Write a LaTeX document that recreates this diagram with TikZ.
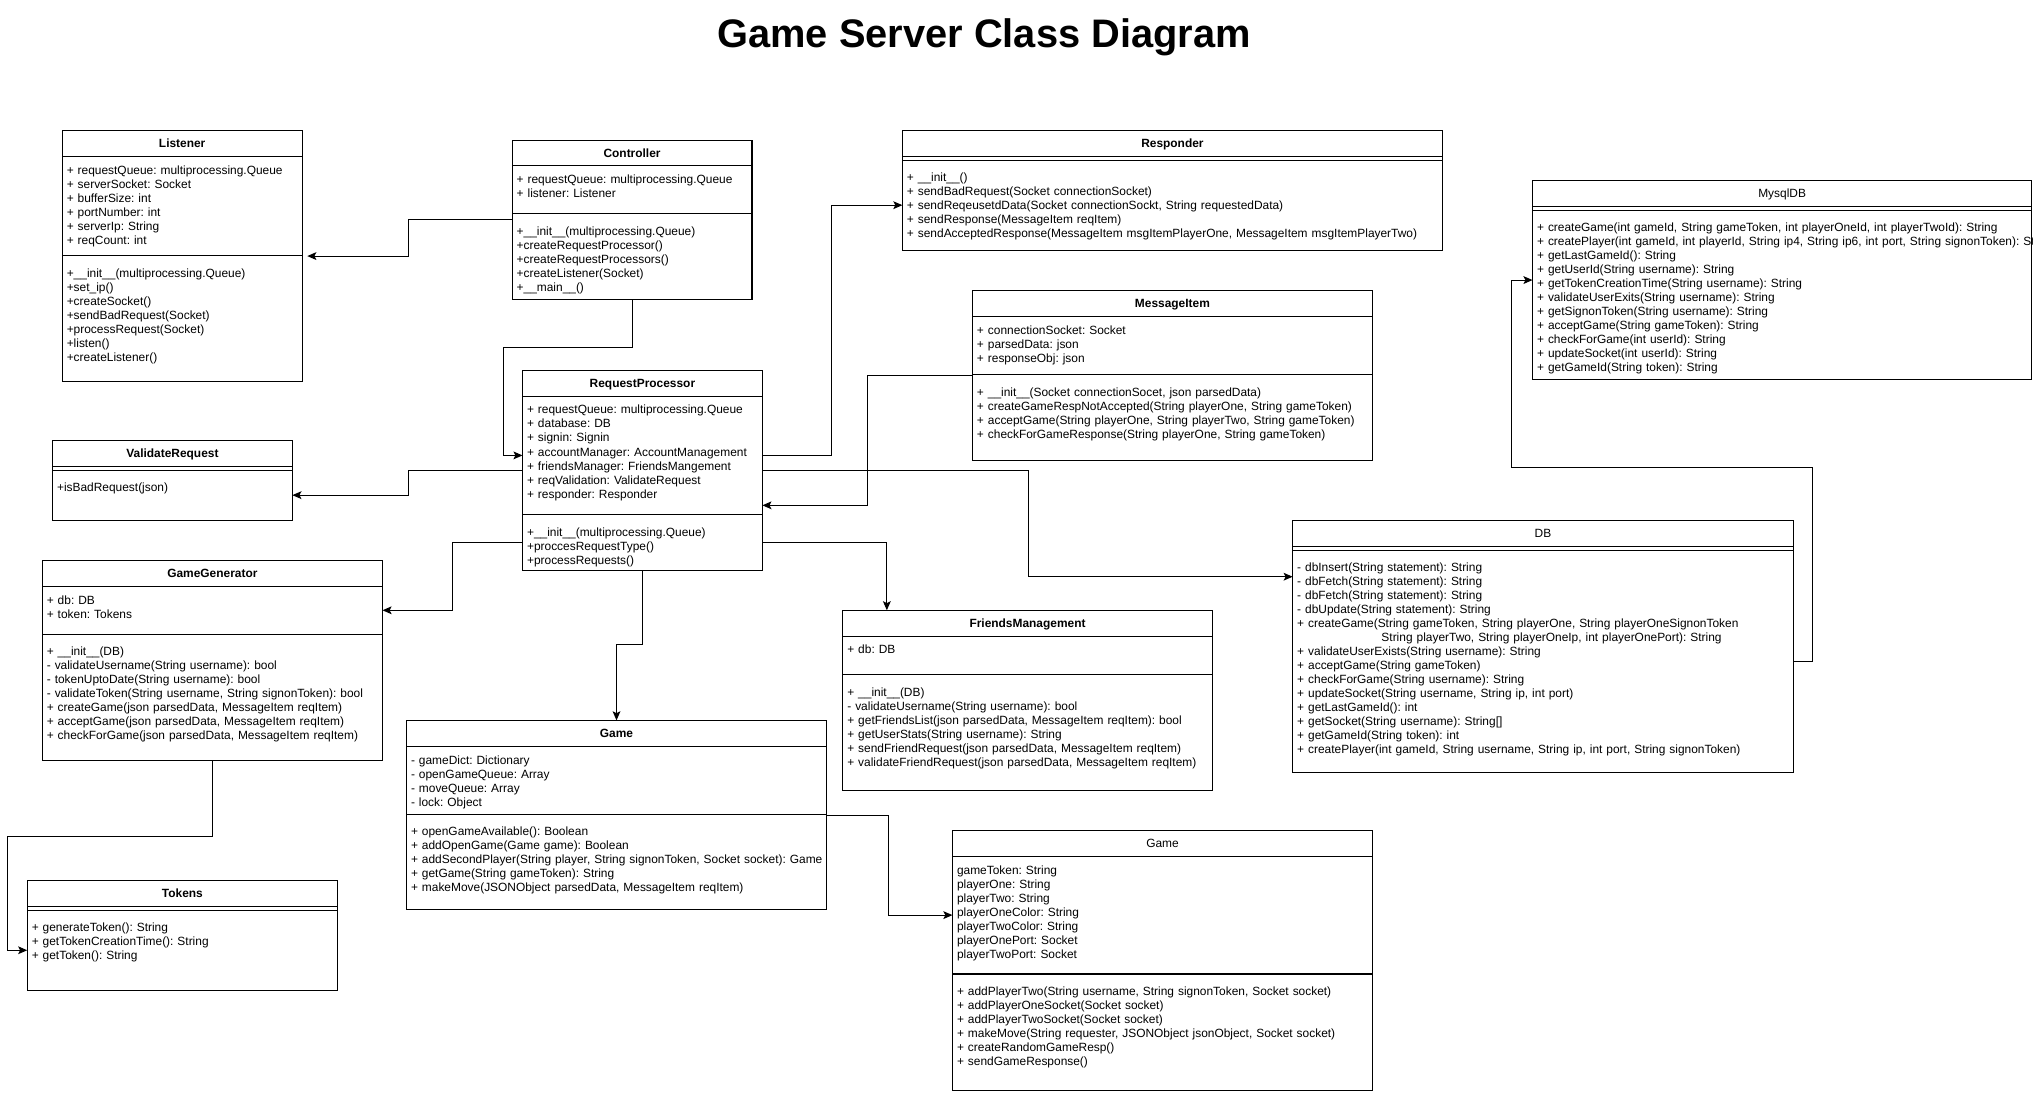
\documentclass[tikz,border=0pt]{standalone}
\usepackage{fontspec}
\setmainfont{Liberation Sans}
\usetikzlibrary{arrows.meta, positioning, fit}
\newcommand{\umlfont}{\fontsize{9.2}{10.8}\selectfont\frenchspacing}

\begin{document}
\begin{tikzpicture}[x=1pt, y=-1pt, line width=0.8pt,
    uml/.style={draw, rectangle, inner xsep=3.5pt, inner ysep=0pt, outer sep=0pt, align=left, font=\umlfont},
    head/.style={draw, rectangle, inner sep=0pt, outer sep=0pt, anchor=north west, minimum width=#1pt, minimum height=20pt, text height=6.7pt, text depth=0.5pt, font=\umlfont\bfseries},
    attr/.style 2 args={uml, minimum width=#1pt, text width=#1pt-7pt, text height=13.7pt, text depth=#2pt-13.7pt},
    meth/.style 2 args={uml, minimum width=#1pt, text width=#1pt-7pt, text height=16.7pt, text depth=#2pt-16.7pt},
    gap/.style={draw, rectangle, inner sep=0pt, outer sep=0pt, minimum width=#1pt, minimum height=3pt},
    whole/.style={inner sep=0pt, outer sep=0pt},
    assoc/.style={-{Stealth[length=7pt, width=6pt, inset=1.5pt]}}]
    \useasboundingbox (0,0) rectangle (1568,843);

    % Title
    \node[font=\fontsize{30.7}{36}\selectfont\bfseries] (title) at (759,29) {Game Server Class Diagram};

    % Listener
    \node[head=185] (lisH) at (48,101) {Listener};
    \node[attr={185}{76}, below=0pt of lisH] (lisA) {+ requestQueue: multiprocessing.Queue\\+ serverSocket: Socket\\+ bufferSize: int\\+ portNumber: int\\+ serverIp: String\\+ reqCount: int};
    \node[meth={185}{97}, below=0pt of lisA] (lisM) {+\_\_init\_\_(multiprocessing.Queue)\\+set\_ip()\\+createSocket()\\+sendBadRequest(Socket)\\+processRequest(Socket)\\+listen()\\+createListener()};
    \node[whole, fit=(lisH)(lisM)] (lis) {};

    % Controller
    \node[head=185] (ctrlH) at (395,108) {Controller};
    \node[attr={185}{37}, below=0pt of ctrlH] (ctrlA) {+ requestQueue: multiprocessing.Queue\\+ listener: Listener};
    \node[meth={185}{66}, below=0pt of ctrlA] (ctrlM) {+\_\_init\_\_(multiprocessing.Queue)\\+createRequestProcessor()\\+createRequestProcessors()\\+createListener(Socket)\\+\_\_main\_\_()};
    \node[whole, fit=(ctrlH)(ctrlM)] (ctrl) {};

    % RequestProcessor
    \node[head=185] (rpH) at (403,285.6) {RequestProcessor};
    \node[attr={185}{91.3}, below=0pt of rpH] (rpA) {+ requestQueue: multiprocessing.Queue\\+ database: DB\\+ signin: Signin\\+ accountManager: AccountManagement\\+ friendsManager: FriendsMangement\\+ reqValidation: ValidateRequest\\+ responder: Responder};
    \node[meth={185}{43}, below=0pt of rpA] (rpM) {+\_\_init\_\_(multiprocessing.Queue)\\+proccesRequestType()\\+processRequests()};
    \node[whole, fit=(rpH)(rpM)] (rp) {};

    % ValidateRequest
    \node[head=185] (vrH) at (40.5,339.6) {ValidateRequest};
    \node[gap=185, below=0pt of vrH] (vrG) {};
    \node[meth={185}{38.6}, below=0pt of vrG] (vrM) {+isBadRequest(json)};
    \node[whole, fit=(vrH)(vrM)] (vr) {};

    % GameGenerator
    \node[head=262.4] (ggH) at (32.6,432.2) {GameGenerator};
    \node[attr={262.4}{37}, below=0pt of ggH] (ggA) {+ db: DB\\+ token: Tokens};
    \node[meth={262.4}{97.2}, below=0pt of ggA] (ggM) {+ \_\_init\_\_(DB)\\- validateUsername(String username): bool\\- tokenUptoDate(String username): bool\\- validateToken(String username, String signonToken): bool\\+ createGame(json parsedData, MessageItem reqItem)\\+ acceptGame(json parsedData, MessageItem reqItem)\\+ checkForGame(json parsedData, MessageItem reqItem)};
    \node[whole, fit=(ggH)(ggM)] (gg) {};

    % Tokens
    \node[head=239.3] (tokH) at (21,679) {Tokens};
    \node[gap=239.3, below=0pt of tokH] (tokG) {};
    \node[meth={239.3}{61.8}, below=0pt of tokG] (tokM) {+ generateToken(): String\\+ getTokenCreationTime(): String\\+ getToken(): String};
    \node[whole, fit=(tokH)(tokM)] (tok) {};

    % Game (left)
    \node[head=324] (gmH) at (313.5,555.6) {Game};
    \node[attr={324}{52.4}, below=0pt of gmH] (gmA) {- gameDict: Dictionary\\- openGameQueue: Array\\- moveQueue: Array\\- lock: Object};
    \node[meth={324}{73.8}, below=0pt of gmA] (gmM) {+ openGameAvailable(): Boolean\\+ addOpenGame(Game game): Boolean\\\mbox{+ addSecondPlayer(String player, String signonToken, Socket socket): Game}\\+ getGame(String gameToken): String\\+ makeMove(JSONObject parsedData, MessageItem reqItem)};
    \node[whole, fit=(gmH)(gmM)] (gm) {};

    % Responder
    \node[head=416.5] (respH) at (696,100.5) {Responder};
    \node[gap=416.5, below=0pt of respH] (respG) {};
    \node[meth={416.5}{69.5}, below=0pt of respG] (respM) {+ \_\_init\_\_()\\+ sendBadRequest(Socket connectionSocket)\\+ sendReqeusetdData(Socket connectionSockt, String requestedData)\\+ sendResponse(MessageItem reqItem)\\+ sendAcceptedResponse(MessageItem msgItemPlayerOne, MessageItem msgItemPlayerTwo)};
    \node[whole, fit=(respH)(respM)] (resp) {};

    % MessageItem
    \node[head=308.5] (miH) at (750,224.2) {MessageItem};
    \node[attr={308.5}{44.8}, below=0pt of miH] (miA) {+ connectionSocket: Socket\\+ parsedData: json\\+ responseObj: json};
    \node[meth={308.5}{65.8}, below=0pt of miA] (miM) {+ \_\_init\_\_(Socket connectionSocet, json parsedData)\\+ createGameRespNotAccepted(String playerOne, String gameToken)\\+ acceptGame(String playerOne, String playerTwo, String gameToken)\\+ checkForGameResponse(String playerOne, String gameToken)};
    \node[whole, fit=(miH)(miM)] (mi) {};

    % MysqlDB
    \node[head=385, font=\umlfont] (mdbH) at (1182,139) {MysqlDB};
    \node[gap=385, below=0pt of mdbH] (mdbG) {};
    \node[meth={385}{131}, below=0pt of mdbG] (mdbM) {+ createGame(int gameId, String gameToken, int playerOneId, int playerTwoId): String\\\mbox{+ createPlayer(int gameId, int playerId, String ip4, String ip6, int port, String signonToken): St}\\+ getLastGameId(): String\\+ getUserId(String username): String\\+ getTokenCreationTime(String username): String\\+ validateUserExits(String username): String\\+ getSignonToken(String username): String\\+ acceptGame(String gameToken): String\\+ checkForGame(int userId): String\\+ updateSocket(int userId): String\\+ getGameId(String token): String};
    \node[whole, fit=(mdbH)(mdbM)] (mdb) {};

    % DB
    \node[head=386, font=\umlfont] (dbH) at (997,401.3) {DB};
    \node[gap=386, below=0pt of dbH] (dbG) {};
    \node[meth={386}{171.3}, below=0pt of dbG] (dbM) {- dbInsert(String statement): String\\- dbFetch(String statement): String\\- dbFetch(String statement): String\\- dbUpdate(String statement): String\\+ createGame(String gameToken, String playerOne, String playerOneSignonToken\\\hspace*{65pt}String playerTwo, String playerOneIp, int playerOnePort): String\\+ validateUserExists(String username): String\\+ acceptGame(String gameToken)\\+ checkForGame(String username): String\\+ updateSocket(String username, String ip, int port)\\+ getLastGameId(): int\\+ getSocket(String username): String[]\\+ getGameId(String token): int\\+ createPlayer(int gameId, String username, String ip, int port, String signonToken)};
    \node[whole, fit=(dbH)(dbM)] (db) {};

    % FriendsManagement
    \node[head=285] (fmH) at (650,470.7) {FriendsManagement};
    \node[attr={285}{29.6}, below=0pt of fmH] (fmA) {+ db: DB};
    \node[meth={285}{89.2}, below=0pt of fmA] (fmM) {+ \_\_init\_\_(DB)\\- validateUsername(String username): bool\\+ getFriendsList(json parsedData, MessageItem reqItem): bool\\+ getUserStats(String username): String\\+ sendFriendRequest(json parsedData, MessageItem reqItem)\\+ validateFriendRequest(json parsedData, MessageItem reqItem)};
    \node[whole, fit=(fmH)(fmM)] (fm) {};

    % Game (right)
    \node[head=324, font=\umlfont] (grH) at (734.6,640.4) {Game};
    \node[attr={324}{90.8}, below=0pt of grH] (grA) {gameToken: String\\playerOne: String\\playerTwo: String\\playerOneColor: String\\playerTwoColor: String\\playerOnePort: Socket\\playerTwoPort: Socket};
    \node[meth={324}{89.7}, below=0pt of grA] (grM) {+ addPlayerTwo(String username, String signonToken, Socket socket)\\+ addPlayerOneSocket(Socket socket)\\+ addPlayerTwoSocket(Socket socket)\\+ makeMove(String requester, JSONObject jsonObject, Socket socket)\\+ createRandomGameResp()\\+ sendGameResponse()};
    \node[whole, fit=(grH)(grM)] (gr) {};

    % Connectors
    \draw[assoc] (ctrl.west) -- ++(-80,0) |- ([xshift=4pt]lis.east);
    \draw[assoc] (ctrl.south) -- ++(0,37) -| ([xshift=-15pt]rpA.west) -- (rpA.west);
    \draw[assoc] (rp.west) -- ++(-88,0) |- (vrM.east);
    \draw[assoc] (rpM.west) -- ++(-54,0) |- (ggA.east);
    \draw[assoc] (rp.south) -- ++(0,57.5) -| (gmH.north);
    \draw[assoc] (rpA.east) -- ++(53,0) |- (respM.west);
    \draw[assoc] (mi.west) -- ++(-81,0) |- ([yshift=-27pt]rp.east);
    \draw[assoc] (rp.east) -- ++(205,0) |- ([yshift=-20.5pt]dbM.north west);
    \draw[assoc] (rpM.east) -| ([xshift=34pt]fmH.north west);
    \draw[assoc] (dbM.east) -- ++(15,0) |- ([xshift=-16pt, yshift=-133pt]mdbM.west) |- ([yshift=11.5pt]mdbM.west);
    \draw[assoc] (gg.south) -- ++(0,59) -| ([xshift=-15pt]tokM.west) -- (tokM.west);
    \draw[assoc] (gm.east) -- ++(48,0) |- (grA.west);
\end{tikzpicture}
\end{document}
